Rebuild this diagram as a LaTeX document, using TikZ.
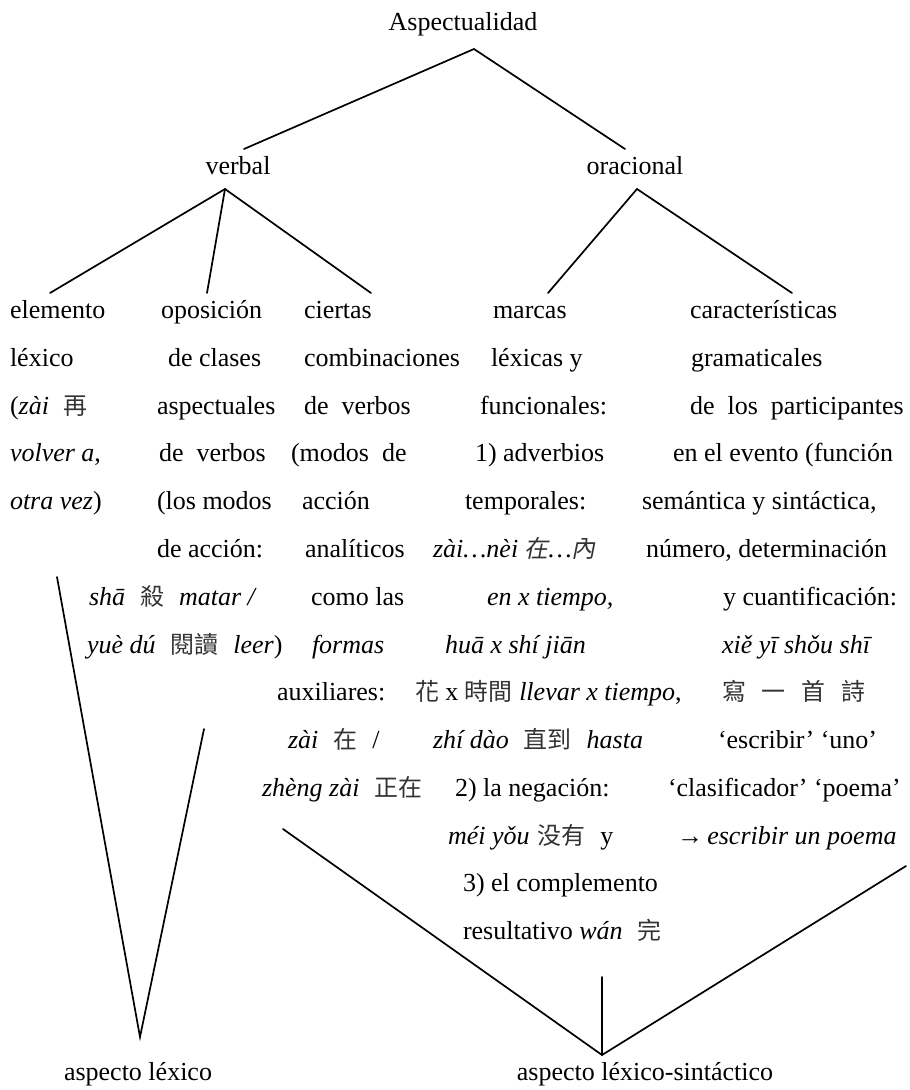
\documentclass[tikz,border=0pt]{standalone}
\usepackage{fontspec}
\setmainfont{Liberation Serif}
\newfontfamily\cjkfont{Noto Sans CJK TC}[Scale=0.92]
\newfontfamily\cjkslant{Noto Sans CJK TC}[Scale=0.92,FakeSlant=0.2]
\newcommand\zh[1]{{\cjkfont\color{black!80}#1}}
\newcommand\zhsl[1]{{\cjkslant\color{black!80}#1}}
\newcommand\cgap{\hspace{15pt}}

\begin{document}
\begin{tikzpicture}[x=1pt,y=-1pt,
  font=\fontsize{26}{30}\selectfont,
  txt/.style={anchor=base west,inner sep=0pt,outer sep=0pt},
  ctr/.style={anchor=base,inner sep=0pt,outer sep=0pt},
  branch/.style={line width=1.7pt,line cap=round,line join=miter}]
\useasboundingbox (0,0) rectangle (910,1090);

% --- upper levels -------------------------------------------------
\node[ctr] (asp) at (463,30) {Aspectualidad};
\node[ctr] (verbal) at (238,174) {verbal};
\node[ctr] (oracional) at (635,174) {oracional};

% attachment points of the branches
\coordinate (asp-foot) at (474,49);
\coordinate (verbal-head) at (244,149);
\coordinate (oracional-head) at (625,149);
\coordinate (verbal-foot) at (225,189);
\coordinate (oracional-foot) at (637,189);
\coordinate (c1-head) at (50,293);
\coordinate (c2-head) at (207,293);
\coordinate (c3-head) at (371,293);
\coordinate (c4-head) at (548,293);
\coordinate (c5-head) at (792,293);

\draw[branch] (verbal-head) -- (asp-foot) -- (oracional-head);
\draw[branch] (c1-head) -- (verbal-foot) -- (c3-head);
\draw[branch] (verbal-foot) -- (c2-head);
\draw[branch] (c4-head) -- (oracional-foot) -- (c5-head);

% --- text block, row by row ---------------------------------------
% row 1
\node[txt] (r1a) at (10,318) {elemento};
\node[txt] (r1b) at (161,318) {oposición};
\node[txt] (r1c) at (304,318) {ciertas};
\node[txt] (r1d) at (493,318) {marcas};
\node[txt] (r1e) at (690,318) {características};
% row 2
\node[txt] (r2a) at (10,366) {léxico};
\node[txt] (r2b) at (168,366) {de clases};
\node[txt] (r2c) at (304,366) {combinaciones};
\node[txt] (r2d) at (491,366) {léxicas y};
\node[txt] (r2e) at (691,366) {gramaticales};
% row 3
\node[txt] (r3a) at (10,414) {(\textit{zài}\cgap\zh{再}};
\node[txt] (r3b) at (157,414) {aspectuales};
\node[txt] (r3c) at (304,414) {de\ \ verbos};
\node[txt] (r3d) at (480,414) {funcionales:};
\node[txt] (r3e) at (690,414) {de\ \ los\ \ participantes};
% row 4
\node[txt] (r4a) at (10,461) {\textit{volver a},};
\node[txt] (r4b) at (159,461) {de\ \ verbos};
\node[txt] (r4c) at (291,461) {(modos\ \ de};
\node[txt] (r4d) at (475,461) {1) adverbios};
\node[txt] (r4e) at (673,461) {en el evento (función};
% row 5
\node[txt] (r5a) at (10,509) {\textit{otra vez})};
\node[txt] (r5b) at (157,509) {(los modos};
\node[txt] (r5c) at (302,509) {acción};
\node[txt] (r5d) at (465,509) {temporales:};
\node[txt] (r5e) at (642,509) {semántica y sintáctica,};
% row 6
\node[txt] (r6b) at (157,557) {de acción:};
\node[txt] (r6c) at (305,557) {analíticos};
\node[txt] (r6d) at (433,557) {\textit{zài…nèi} \zhsl{在}\textit{…}\zhsl{內}};
\node[txt] (r6e) at (646,557) {número, determinación};
% row 7
\node[txt] (r7a) at (89,605) {\textit{shā}\cgap\zh{殺}\cgap\textit{matar /}};
\node[txt] (r7b) at (311,605) {como las};
\node[txt] (r7c) at (487,605) {\textit{en x tiempo,}};
\node[txt] (r7d) at (723,605) {y cuantificación:};
% row 8
\node[txt] (r8a) at (87,653) {\textit{yuè dú}\cgap\zh{閱讀}\cgap\textit{leer})};
\node[txt] (r8b) at (312,653) {\textit{formas}};
\node[txt] (r8c) at (445,653) {\textit{huā x shí jiān}};
\node[txt] (r8d) at (722,653) {\textit{xiě yī shǒu shī}};
% row 9
\node[txt] (r9a) at (277,700) {auxiliares:};
\node[txt] (r9b) at (415,700) {\zh{花} x \zh{時間} \textit{llevar x tiempo},};
\node[txt] (r9c) at (722,700) {\zh{寫}\hspace{16pt}\zh{一}\hspace{16pt}\zh{首}\hspace{16pt}\zh{詩}};
% row 10
\node[txt] (r10a) at (288,748) {\textit{zài}\cgap\zh{在}\cgap/};
\node[txt] (r10b) at (433,748) {\textit{zhí dào}\cgap\zh{直到}\cgap\textit{hasta}};
\node[txt] (r10c) at (718,748) {‘escribir’ ‘uno’};
% row 11
\node[txt] (r11a) at (262,796) {\textit{zhèng zài}\cgap\zh{正在}};
\node[txt] (r11b) at (455,796) {2) la negación:};
\node[txt] (r11c) at (668,796) {‘clasificador’ ‘poema’};
% row 12
\node[txt] (r12a) at (448,844) {\textit{méi yǒu}\hspace{8pt}\zh{没有}\cgap y};
\node[txt] (r12b) at (677,844) {→\,\textit{escribir un poema}};
% row 13
\node[txt] (r13a) at (463,891) {3) el complemento};
% row 14
\node[txt] (r14a) at (463,939) {resultativo \textit{wán}\cgap\zh{完}};

% --- lower level --------------------------------------------------
\node[ctr] (alex) at (138,1080) {aspecto léxico};
\node[ctr] (alexsin) at (645,1080) {aspecto léxico-sintáctico};

\coordinate (alex-head) at (140,1037);
\coordinate (lv-left) at (57,577);
\coordinate (lv-right) at (204,729);
\coordinate (alexsin-head) at (602,1055);
\coordinate (rv-left) at (283,829);
\coordinate (rv-right) at (906,866);
\coordinate (rv-mid) at (602,977);

\draw[branch] (lv-left) -- (alex-head) -- (lv-right);
\draw[branch] (rv-left) -- (alexsin-head) -- (rv-right);
\draw[branch] (rv-mid) -- (alexsin-head);
\end{tikzpicture}
\end{document}
